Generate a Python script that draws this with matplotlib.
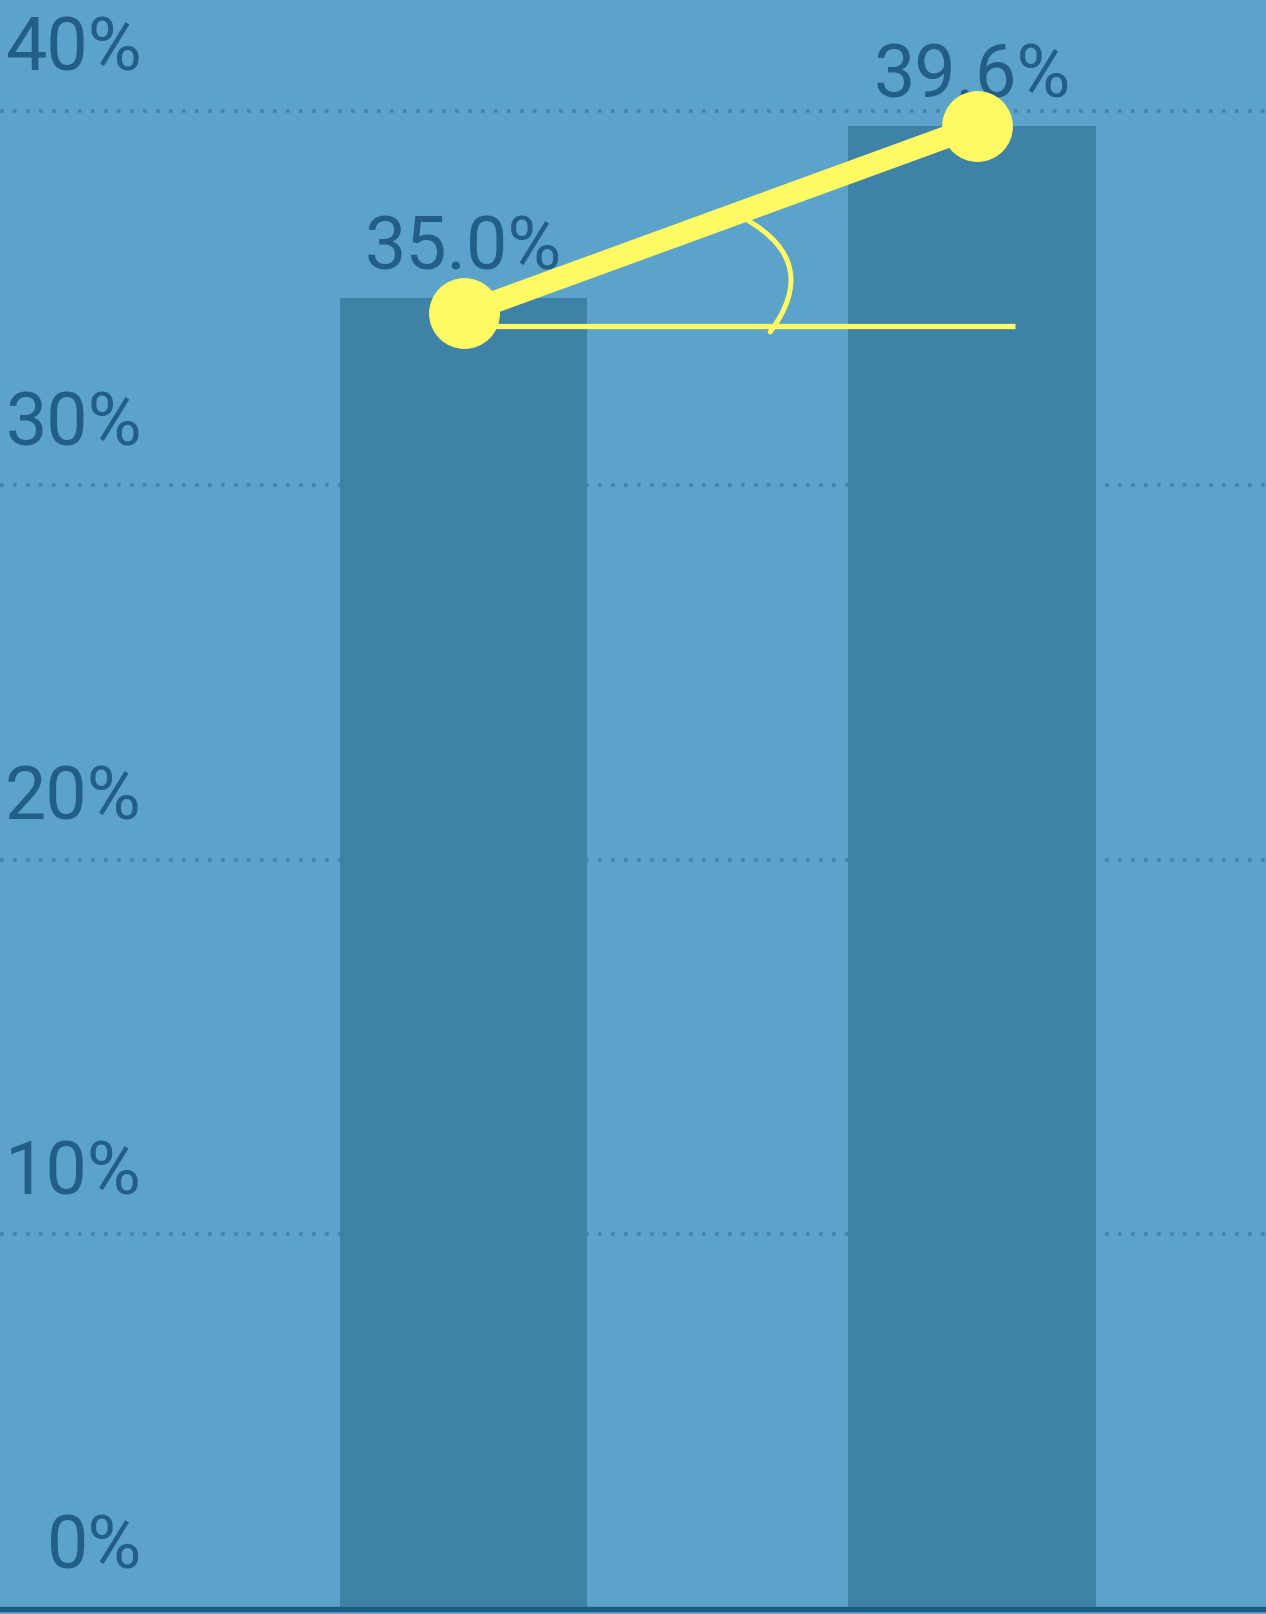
import matplotlib
matplotlib.use("Agg")
import matplotlib.pyplot as plt
from matplotlib import transforms

# 막대 데이터
categories = ["A", "B"]
values = [35.0, 39.6]
ticks = [0, 10, 20, 30, 40]
tick_labels = ["0%", "10%", "20%", "30%", "40%"]

# 노란 추세선 주석 (데이터 좌표)
trend_x = [0.0, 1.01]
trend_y = [34.6, 39.6]
base_x = [0.0, 1.085]
base_y = [34.26, 34.26]
arc_start = (0.5575, 37.09)
arc_end = (0.603, 34.10)

BG = "#5ba3cb"
BAR = "#3e83a6"
TEXT = "#235e87"
GRID = "#4583ad"
AXIS = "#1a5a80"
YELLOW = "#fffa64"

plt.rcParams["font.family"] = ["Liberation Sans Narrow", "Roboto", "DejaVu Sans"]
FS = 53

fig = plt.figure(figsize=(12.66, 16.15), dpi=100)
fig.patch.set_facecolor(BG)
ax = fig.add_axes([0, 0, 1, 1])
ax.set_facecolor(BG)

x = list(range(len(categories)))
ax.bar(x, values, width=0.486, color=BAR, zorder=2)

ax.set_xlim(-0.9115, 1.578)
ax.set_ylim(-0.134, 42.99)
for s in ax.spines.values():
    s.set_visible(False)
ax.set_xticks([])
ax.set_yticks([])

# 점선 격자 (막대 뒤)
for t in ticks[1:]:
    ax.axhline(t, color=GRID, lw=2.6, linestyle=(0, (1, 2.6)), zorder=1)
ax.axhline(0, color=AXIS, lw=3.8, zorder=3)

# y축 라벨: 격자선 위쪽, 축 안쪽에 오른쪽 정렬
lab_tr = transforms.blended_transform_factory(ax.transAxes, ax.transData) + \
    transforms.ScaledTranslation(0, 0.615, fig.dpi_scale_trans)
for t, lab in zip(ticks, tick_labels):
    ax.text(0.112, t, lab, transform=lab_tr, ha="right", va="center",
            fontsize=FS, fontweight="normal", color=TEXT)

# 막대 값 라벨
for xi, v in zip(x, values):
    ax.annotate(f"{v:.1f}%", (xi, v), xytext=(0, 36), textcoords="offset points",
                ha="center", va="center", fontsize=FS, fontweight="normal", color=TEXT)

# 노란 주석
ax.plot(base_x, base_y, color=YELLOW, lw=3.8, solid_capstyle="butt", zorder=4)
ax.annotate("", xy=arc_end, xytext=arc_start,
            arrowprops=dict(arrowstyle="-", color=YELLOW, lw=3.6,
                            connectionstyle="arc3,rad=-0.56",
                            shrinkA=0, shrinkB=0), zorder=4)
ax.plot(trend_x, trend_y, color=YELLOW, lw=16, marker="o", ms=50,
        solid_capstyle="butt", zorder=5)

fig.savefig("out.png", dpi=100, facecolor=BG)
